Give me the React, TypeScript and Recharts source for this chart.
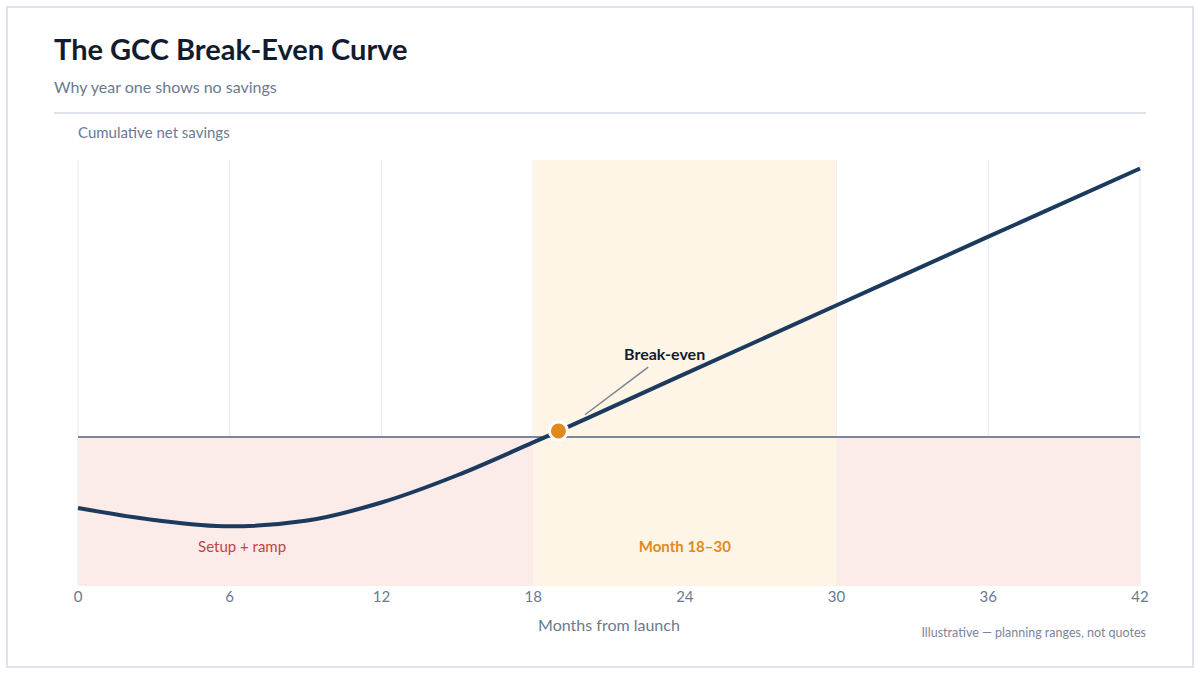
import { LineChart, Line, XAxis, YAxis, CartesianGrid, ReferenceArea, ReferenceLine, ReferenceDot } from "recharts";

// months from launch and cumulative net savings (arbitrary units)
const months = [0, 3, 6, 9, 12, 15, 18, 24, 30, 36, 42];
const savings = [-1.67, -1.95, -2.1, -1.97, -1.54, -0.9, -0.13, 1.48, 3.09, 4.7, 6.3];
const monthTicks = [0, 6, 12, 18, 24, 30, 36, 42];
const breakEven = { month: 19, value: 0.14 };
const windowMonths = [18, 30];

const data = months.map((m, i) => ({ month: m, value: savings[i] }));

const FONT = "Lato, 'Noto Sans', sans-serif";
const MUTED = "#6b7a90";

export default function App() {
  return (
    <div style={{ position: "absolute", left: 0, top: 0, width: 1200, height: 675, background: "#fff", fontFamily: FONT }}>
      <div style={{ position: "absolute", left: 6, top: 6, width: 1184, height: 658, border: "2px solid #dfe3ee" }} />
      <div style={{ position: "absolute", left: 54, top: 34, fontSize: 29, lineHeight: "29px", fontWeight: 700, color: "#111c2e" }}>
        The GCC Break-Even Curve
      </div>
      <div style={{ position: "absolute", left: 54, top: 79, fontSize: 16, lineHeight: "16px", color: MUTED }}>
        Why year one shows no savings
      </div>
      <div style={{ position: "absolute", left: 54, top: 112, width: 1092, height: 2, background: "#dfe3ee" }} />
      <div style={{ position: "absolute", left: 78, top: 125, fontSize: 15, lineHeight: "15px", color: MUTED }}>
        Cumulative net savings
      </div>

      <div style={{ position: "absolute", left: 0, top: 0 }}>
        <LineChart width={1200} height={675} data={data} margin={{ top: 160, right: 60, bottom: 59, left: 78 }}>
          <ReferenceArea x1={0} x2={42} y1={-3.5} y2={0} fill="#fbecea" fillOpacity={1} stroke="none" />
          <ReferenceArea x1={windowMonths[0]} x2={windowMonths[1]} y1={-3.5} y2={6.5} fill="#fef5e6" fillOpacity={1} stroke="none" />
          <CartesianGrid vertical horizontal={false} stroke="#e4e8f0" />
          <XAxis
            dataKey="month"
            type="number"
            domain={[0, 42]}
            ticks={monthTicks}
            axisLine={false}
            tickLine={false}
            tickSize={3}
            tick={{ fill: MUTED, fontSize: 15, fontFamily: FONT }}
            height={30}
          />
          <YAxis hide domain={[-3.5, 6.5]} type="number" />
          <ReferenceLine y={0} stroke="#7a8699" strokeWidth={2} />
          <ReferenceLine
            segment={[{ x: 20.05, y: 0.52 }, { x: 22.55, y: 1.64 }]}
            stroke="#7b8190"
            strokeWidth={1.5}
          />
          <Line
            type="monotone"
            dataKey="value"
            stroke="#1c3a5e"
            strokeWidth={4}
            dot={false}
            activeDot={false}
            isAnimationActive={false}
          />
          <ReferenceDot x={breakEven.month} y={breakEven.value} r={9} fill="#e08a1e" stroke="#fff" strokeWidth={3} />
          <ReferenceDot
            x={23.2}
            y={1.95}
            r={0}
            fill="none"
            stroke="none"
            label={{ value: "Break-even", position: "center", fill: "#111c2e", fontSize: 16, fontWeight: 700, fontFamily: FONT }}
          />
          <ReferenceDot
            x={6.49}
            y={-2.58}
            r={0}
            fill="none"
            stroke="none"
            label={{ value: "Setup + ramp", position: "center", fill: "#c0443f", fontSize: 15, fontFamily: FONT }}
          />
          <ReferenceDot
            x={24}
            y={-2.58}
            r={0}
            fill="none"
            stroke="none"
            label={{ value: "Month 18–30", position: "center", fill: "#e08a1e", fontSize: 15, fontWeight: 700, fontFamily: FONT }}
          />
        </LineChart>
      </div>

      <div style={{ position: "absolute", left: 459, width: 300, textAlign: "center", top: 617, fontSize: 16, lineHeight: "16px", color: MUTED }}>
        Months from launch
      </div>
      <div style={{ position: "absolute", right: 54, top: 627, fontSize: 12.5, lineHeight: "12.5px", color: "#7a8699" }}>
        Illustrative — planning ranges, not quotes
      </div>
    </div>
  );
}
